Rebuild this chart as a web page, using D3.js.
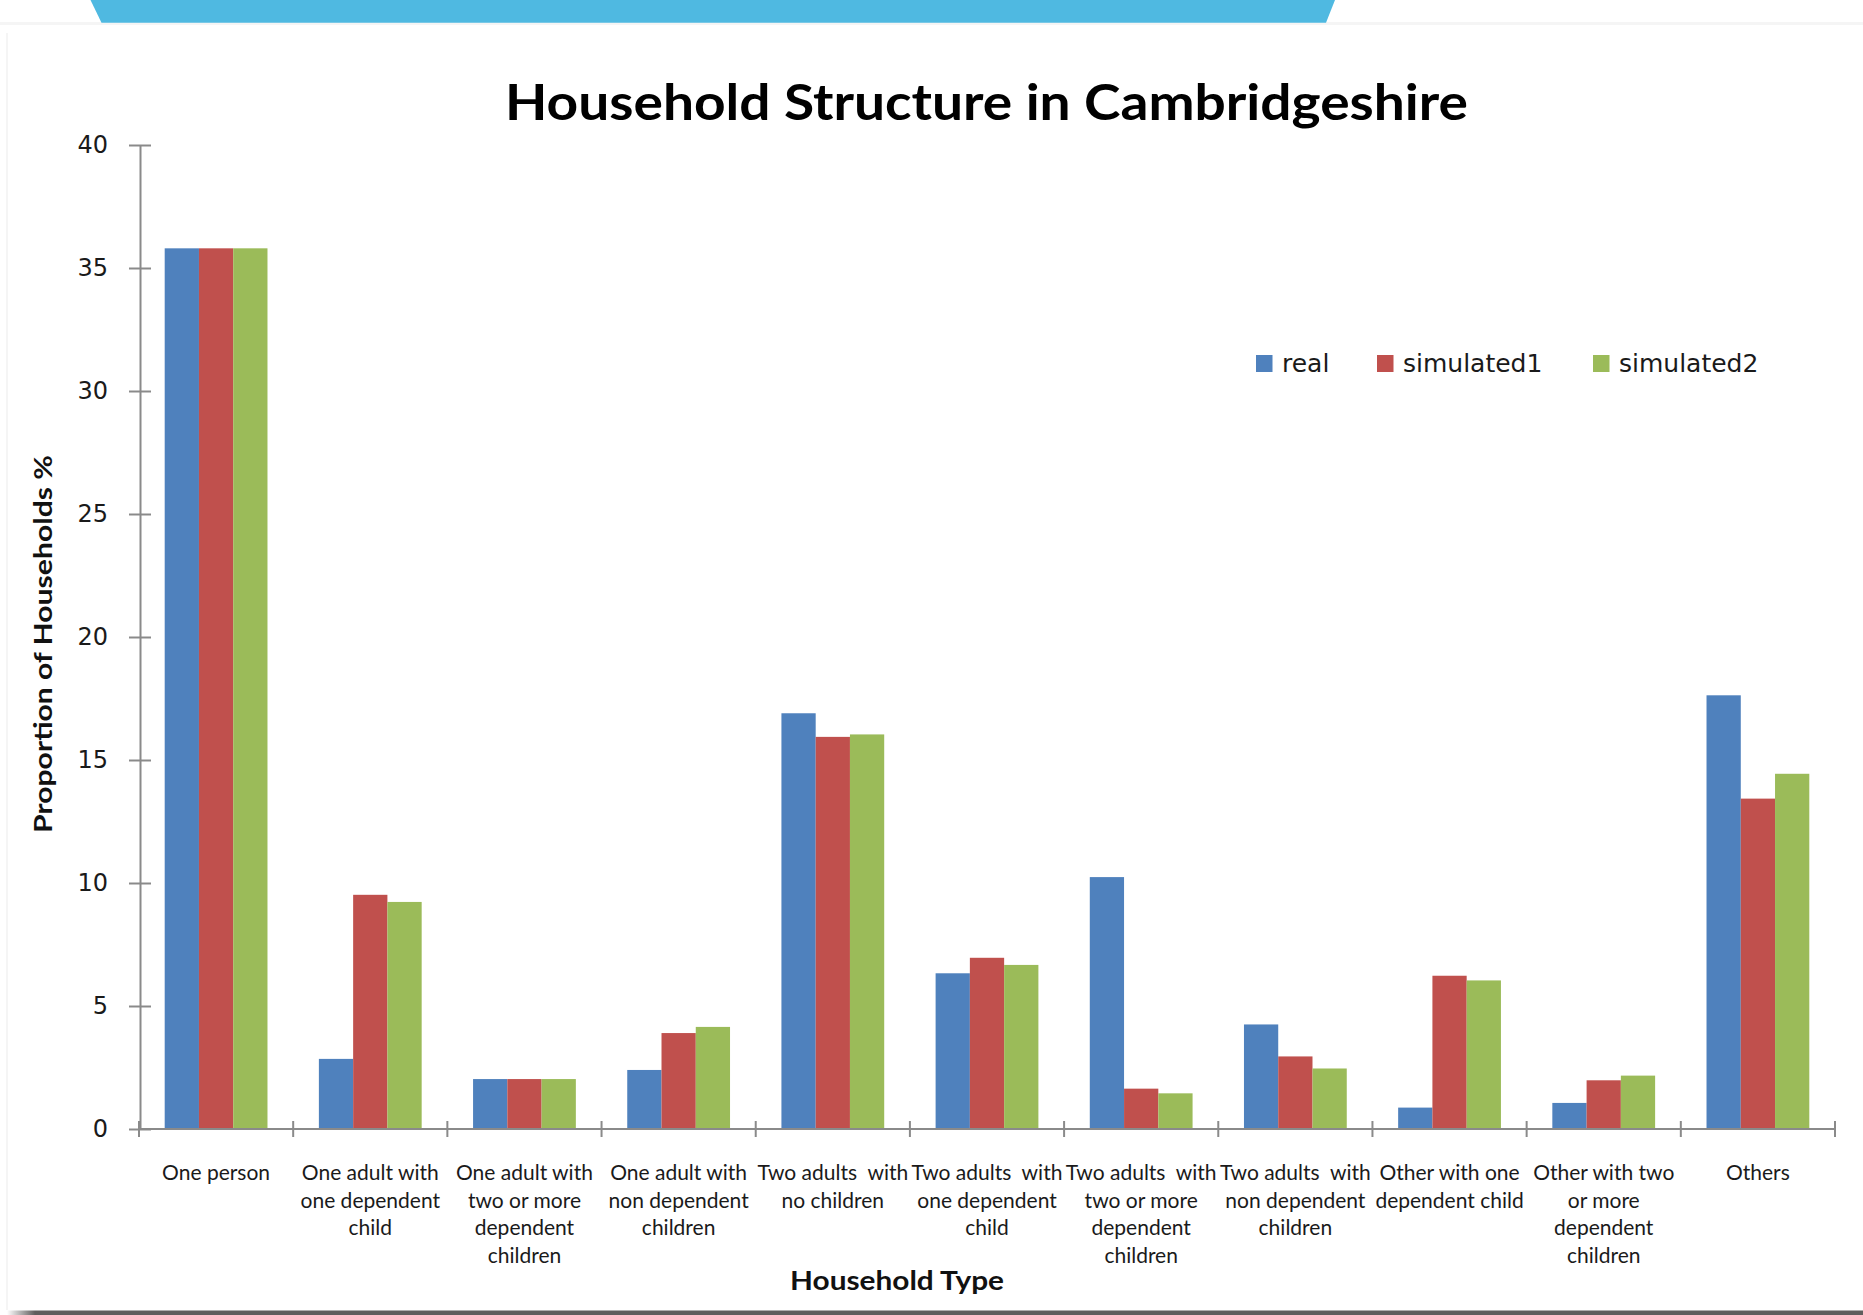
<!DOCTYPE html>
<html>
<head>
<meta charset="utf-8">
<script src="https://cdn.jsdelivr.net/npm/d3@7"></script>
<style>
  html, body { margin: 0; padding: 0; background: #ffffff; }
  svg { display: block; }
</style>
</head>
<body>
<svg id="chart" width="1863" height="1315"></svg>
<script>
// Household types (x-axis categories) and their wrapped label lines
const categories = [
  "One person",
  "One adult with one dependent child",
  "One adult with two or more dependent children",
  "One adult with non dependent children",
  "Two adults with no children",
  "Two adults with one dependent child",
  "Two adults with two or more dependent children",
  "Two adults with non dependent children",
  "Other with one dependent child",
  "Other with two or more dependent children",
  "Others"
];
const categoryLines = [
  ["One person"],
  ["One adult with", "one dependent", "child"],
  ["One adult with", "two or more", "dependent", "children"],
  ["One adult with", "non dependent", "children"],
  ["Two adults\u00a0 with", "no children"],
  ["Two adults\u00a0 with", "one dependent", "child"],
  ["Two adults\u00a0 with", "two or more", "dependent", "children"],
  ["Two adults\u00a0 with", "non dependent", "children"],
  ["Other with one", "dependent child"],
  ["Other with two", "or more", "dependent", "children"],
  ["Others"]
];

// Proportion of households (%) per series
const seriesNames = ["real", "simulated1", "simulated2"];
const real       = [35.8, 2.85, 2.03, 2.40, 16.90, 6.33, 10.24, 4.25, 0.87, 1.06, 17.63];
const simulated1 = [35.8, 9.52, 2.03, 3.90, 15.94, 6.96,  1.64, 2.95, 6.23, 1.98, 13.43];
const simulated2 = [35.8, 9.23, 2.03, 4.15, 16.04, 6.67,  1.45, 2.46, 6.04, 2.17, 14.44];
const yTicks = [0, 5, 10, 15, 20, 25, 30, 35, 40];

const seriesValues = [real, simulated1, simulated2];
const colors = ["#4f81bd", "#c0504d", "#9bbb59"];

const svg = d3.select("#chart");

// Page decoration: banner strip, card edge and bottom shadow
svg.append("rect").attr("x", 0).attr("y", 22).attr("width", 1863).attr("height", 3).attr("fill", "#f5f5f5");
svg.append("path")
  .attr("d", "M90.5,0 L1335,0 L1326,22.7 L101.5,22.7 Z")
  .attr("fill", "#4fb9e1");
svg.append("line").attr("x1", 7).attr("x2", 7).attr("y1", 33).attr("y2", 1310)
  .attr("stroke", "#f2f2f2").attr("stroke-width", 1.5);
const grad = svg.append("defs").append("linearGradient").attr("id", "shade")
  .attr("x1", 0).attr("x2", 1).attr("y1", 0).attr("y2", 0);
grad.append("stop").attr("offset", "0").attr("stop-color", "#5f5d5d").attr("stop-opacity", 0);
grad.append("stop").attr("offset", "1").attr("stop-color", "#5f5d5d").attr("stop-opacity", 1);
svg.append("rect").attr("x", 7).attr("y", 1310.5).attr("width", 28).attr("height", 5).attr("fill", "url(#shade)");
svg.append("rect").attr("x", 35).attr("y", 1310.5).attr("width", 1828).attr("height", 5).attr("fill", "#5f5d5d");

// Scales
const x = d3.scaleBand().domain(categories).range([139, 1835]).paddingInner(0).paddingOuter(0);
const xSub = d3.scaleBand().domain(seriesNames).range([0, x.bandwidth()]).paddingInner(0).paddingOuter(0.75);
const y = d3.scaleLinear().domain([0, 40]).range([1129, 145]);

// Bars
const groups = svg.append("g").selectAll("g")
  .data(categories)
  .join("g")
  .attr("transform", d => `translate(${x(d)},0)`);

groups.selectAll("rect")
  .data((d, i) => seriesNames.map((s, k) => ({ s, v: seriesValues[k][i], c: colors[k] })))
  .join("rect")
  .attr("x", d => xSub(d.s))
  .attr("width", xSub.bandwidth())
  .attr("y", d => y(d.v))
  .attr("height", d => y(0) - y(d.v))
  .attr("fill", d => d.c);

// Y axis
const axisColor = "#8a8a8a";
const yAxis = svg.append("g")
  .attr("transform", "translate(140,0)")
  .call(d3.axisLeft(y).tickValues(yTicks).tickSizeInner(11).tickSizeOuter(0).tickPadding(21));
yAxis.select(".domain").attr("stroke", axisColor).attr("stroke-width", 2);
yAxis.selectAll(".tick line").attr("x1", -11).attr("x2", 11).attr("stroke", axisColor).attr("stroke-width", 2);
yAxis.selectAll(".tick text")
  .attr("font-family", "'DejaVu Sans', Verdana, sans-serif")
  .attr("font-size", 24)
  .attr("fill", "#1a1a1a");

// X axis line with boundary ticks
const xAxis = svg.append("g");
xAxis.append("line")
  .attr("x1", x.range()[0]).attr("x2", x.range()[1])
  .attr("y1", y(0)).attr("y2", y(0))
  .attr("stroke", axisColor).attr("stroke-width", 2);
const boundaries = categories.map(c => x(c)).concat([x.range()[1]]);
xAxis.selectAll("line.tick")
  .data(boundaries)
  .join("line")
  .attr("class", "tick")
  .attr("x1", d => d).attr("x2", d => d)
  .attr("y1", y(0) - 8).attr("y2", y(0) + 8)
  .attr("stroke", axisColor).attr("stroke-width", 2);

// Category labels
const labels = svg.append("g")
  .attr("font-family", "Lato, 'Open Sans', sans-serif")
  .attr("font-size", 21)
  .attr("fill", "#1a1a1a")
  .attr("text-anchor", "middle");
labels.selectAll("text")
  .data(categories)
  .join("text")
  .attr("x", d => x(d) + x.bandwidth() / 2)
  .attr("y", 1180)
  .each(function (d, i) {
    d3.select(this).selectAll("tspan")
      .data(categoryLines[i])
      .join("tspan")
      .attr("x", x(d) + x.bandwidth() / 2)
      .attr("dy", (t, j) => j === 0 ? 0 : 27.7)
      .text(t => t);
  });

// Titles
svg.append("text")
  .attr("x", 986.5).attr("y", 120)
  .attr("text-anchor", "middle")
  .attr("font-family", "Lato, sans-serif")
  .attr("font-weight", "bold")
  .attr("font-size", 49)
  .attr("textLength", 963)
  .attr("lengthAdjust", "spacingAndGlyphs")
  .attr("fill", "#000")
  .text("Household Structure in Cambridgeshire");

svg.append("text")
  .attr("x", 897).attr("y", 1290)
  .attr("text-anchor", "middle")
  .attr("font-family", "Lato, sans-serif")
  .attr("font-weight", "bold")
  .attr("font-size", 26)
  .attr("textLength", 214)
  .attr("lengthAdjust", "spacingAndGlyphs")
  .attr("fill", "#111")
  .text("Household Type");

svg.append("text")
  .attr("transform", "translate(52,644) rotate(-90)")
  .attr("text-anchor", "middle")
  .attr("font-family", "Lato, sans-serif")
  .attr("font-weight", "bold")
  .attr("font-size", 25)
  .attr("textLength", 378)
  .attr("lengthAdjust", "spacingAndGlyphs")
  .attr("fill", "#111")
  .text("Proportion of Households %");

// Legend
const legendX = [1256, 1377, 1593];
const legend = svg.append("g");
const items = legend.selectAll("g")
  .data(seriesNames)
  .join("g")
  .attr("transform", (d, i) => `translate(${legendX[i]},355)`);
items.append("rect")
  .attr("width", 16.5).attr("height", 17)
  .attr("fill", (d, i) => colors[i]);
items.append("text")
  .attr("x", 26).attr("y", 17)
  .attr("font-family", "'DejaVu Sans', Verdana, sans-serif")
  .attr("font-size", 25)
  .attr("fill", "#1a1a1a")
  .text(d => d);
</script>
</body>
</html>
